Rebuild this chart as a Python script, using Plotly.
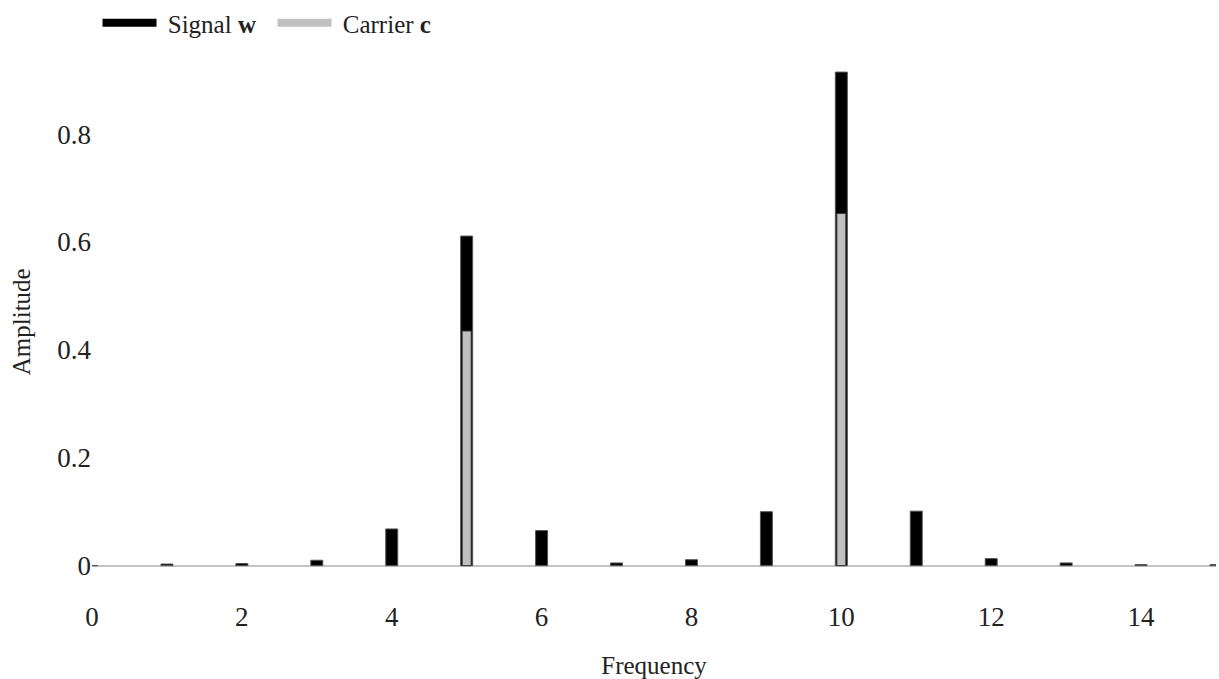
import plotly.graph_objects as go

# Spectrum amplitudes at integer frequencies
frequency = list(range(0, 16))
signal_w = [0.0, 0.003, 0.004, 0.010, 0.068, 0.611, 0.065, 0.005,
            0.011, 0.100, 0.915, 0.101, 0.013, 0.005, 0.002, 0.002]
carrier_freq = [5, 10]
carrier_c = [0.435, 0.653]

x_ticks = [0, 2, 4, 6, 8, 10, 12, 14]
y_ticks = [0, 0.2, 0.4, 0.6, 0.8]
y_tick_text = ["0", "0.2", "0.4", "0.6", "0.8"]

FONT = "Liberation Serif"
TEXT = "#222222"

fig = go.Figure()

fig.add_trace(go.Bar(
    x=frequency, y=signal_w, width=0.16,
    marker=dict(color="black", line=dict(color="#555555", width=1)),
    showlegend=False, hoverinfo="x+y",
))
fig.add_trace(go.Bar(
    x=carrier_freq, y=carrier_c, width=0.12,
    marker=dict(color="#c0c0c0", line=dict(color="#333333", width=1)),
    showlegend=False, hoverinfo="x+y",
))

# legend entries drawn as thick strokes
fig.add_trace(go.Scatter(
    x=[None], y=[None], mode="lines", name="&nbsp;Signal <b>w</b>",
    line=dict(color="black", width=8),
))
fig.add_trace(go.Scatter(
    x=[None], y=[None], mode="lines", name="&nbsp;Carrier <b>c</b>",
    line=dict(color="#c0c0c0", width=8),
))

fig.update_layout(
    width=1219, height=679,
    margin=dict(l=92, r=3, t=64, b=79),
    paper_bgcolor="white", plot_bgcolor="white",
    barmode="overlay",
    font=dict(family=FONT, size=25, color=TEXT),
    legend=dict(
        orientation="h", x=0.08, y=1.0, xanchor="left", yanchor="top",
        xref="container", yref="container",
        font=dict(family=FONT, size=25, color=TEXT),
        itemwidth=54, entrywidth=106, entrywidthmode="pixels",
        bgcolor="rgba(0,0,0,0)", tracegroupgap=0,
    ),
    xaxis=dict(
        range=[0, 15], tickvals=x_ticks, showgrid=False, zeroline=False,
        showline=False, ticks="", tickfont=dict(size=27),
        title=dict(text="Frequency", standoff=26, font=dict(size=25)),
    ),
    yaxis=dict(
        range=[-0.06, 0.93], tickvals=y_ticks, ticktext=y_tick_text,
        showgrid=False, zeroline=True, zerolinecolor="#c4c4c4",
        zerolinewidth=2, showline=False, ticks="", tickfont=dict(size=27),
    ),
    annotations=[dict(
        text="Amplitude", textangle=-90, xref="paper", yref="paper",
        x=-0.062, y=0.517, xanchor="center", yanchor="middle",
        showarrow=False, font=dict(family=FONT, size=25, color=TEXT),
    )],
)

fig.write_html("out.html")
